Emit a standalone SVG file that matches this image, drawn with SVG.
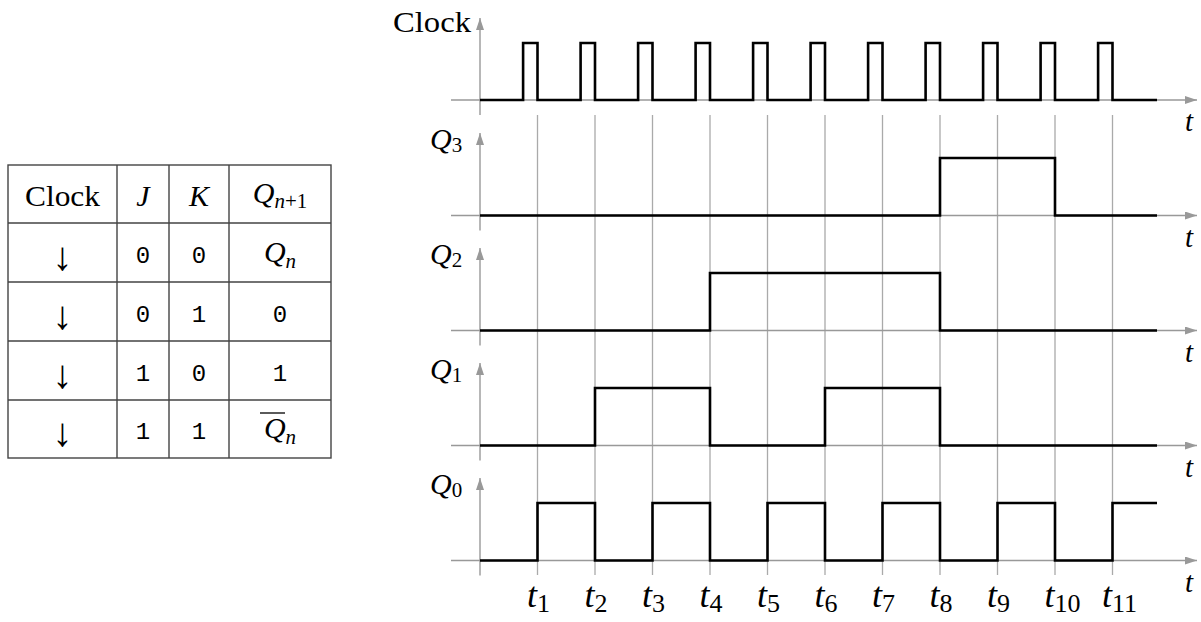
<svg xmlns="http://www.w3.org/2000/svg" width="1201" height="622" viewBox="0 0 1201 622">
<defs>
<marker id="ah" viewBox="0 0 12 8" refX="12" refY="4" markerWidth="12" markerHeight="8" markerUnits="userSpaceOnUse" orient="auto">
<path d="M0,0 L12,4 L0,8 Z" fill="#999"/>
</marker>
</defs>
<style>
.tbl{fill:none;stroke:#444;stroke-width:1.4}
.ax{fill:none;stroke:#999;stroke-width:1.4}
.grid{fill:none;stroke:#aaa;stroke-width:1.3}
.sig{fill:none;stroke:#000;stroke-width:2.6;stroke-linejoin:miter}
.rm{font-family:"Liberation Serif","DejaVu Serif",serif;font-size:29px;fill:#000}
.mi{font-family:"Liberation Serif","DejaVu Serif",serif;font-style:italic;font-size:30px;fill:#000}
.tt{font-family:"Liberation Mono","DejaVu Sans Mono",monospace;font-size:24px;fill:#000}
.arr{font-family:"Liberation Serif","DejaVu Serif",serif;font-size:40px;fill:#000}
.sub{font-size:21px;font-style:normal}
.subi{font-size:21px}
.tl{font-family:"Liberation Serif","DejaVu Serif",serif;font-style:italic;font-size:36px;fill:#000}
.tls{font-size:26px;font-style:normal}
.ta{font-family:"Liberation Serif","DejaVu Serif",serif;font-style:italic;font-size:29px;fill:#000}
</style>

<g id="truth-table">
<rect class="tbl" x="8" y="165" width="323" height="293"/>
<path class="tbl" d="M117,165 V458 M169,165 V458 M229,165 V458 M8,223 H331 M8,282 H331 M8,341 H331 M8,400 H331"/>
<text class="rm" x="25" y="206" textLength="75" lengthAdjust="spacingAndGlyphs">Clock</text>
<text class="mi" x="143" y="206" text-anchor="middle">J</text>
<text class="mi" x="199" y="206" text-anchor="middle">K</text>
<text class="mi" x="280" y="203" text-anchor="middle">Q<tspan class="subi" dy="5">n</tspan><tspan class="sub">+1</tspan></text>

<text class="arr" x="62.5" y="270" text-anchor="middle">↓</text>
<text class="tt" x="143" y="263" text-anchor="middle">0</text>
<text class="tt" x="199" y="263" text-anchor="middle">0</text>
<text class="mi" x="280" y="262" text-anchor="middle">Q<tspan class="subi" dy="6">n</tspan></text>

<text class="arr" x="62.5" y="329" text-anchor="middle">↓</text>
<text class="tt" x="143" y="322" text-anchor="middle">0</text>
<text class="tt" x="199" y="322" text-anchor="middle">1</text>
<text class="tt" x="280" y="322" text-anchor="middle">0</text>

<text class="arr" x="62.5" y="388" text-anchor="middle">↓</text>
<text class="tt" x="143" y="381" text-anchor="middle">1</text>
<text class="tt" x="199" y="381" text-anchor="middle">0</text>
<text class="tt" x="280" y="381" text-anchor="middle">1</text>

<text class="arr" x="62.5" y="446" text-anchor="middle">↓</text>
<text class="tt" x="143" y="439" text-anchor="middle">1</text>
<text class="tt" x="199" y="439" text-anchor="middle">1</text>
<text class="mi" x="280" y="438" text-anchor="middle">Q<tspan class="subi" dy="6">n</tspan></text>
<line x1="260" y1="413" x2="285" y2="413" stroke="#000" stroke-width="1.3"/>
</g>

<g id="connectors">
<path class="grid" d="M537.5,115 V575 M595,115 V575 M652.5,115 V575 M710,115 V575 M767.5,115 V575 M825,115 V575 M882.5,115 V575 M940,115 V575 M997.5,115 V575 M1055,115 V575 M1112.5,115 V575"/>
<line class="ax" x1="451" y1="100" x2="1197" y2="100" marker-end="url(#ah)"/>
<line class="ax" x1="480" y1="115" x2="480" y2="18" marker-end="url(#ah)"/>
<line class="ax" x1="451" y1="215.5" x2="1197" y2="215.5" marker-end="url(#ah)"/>
<line class="ax" x1="480" y1="230.5" x2="480" y2="133" marker-end="url(#ah)"/>
<line class="ax" x1="451" y1="330.5" x2="1197" y2="330.5" marker-end="url(#ah)"/>
<line class="ax" x1="480" y1="345.5" x2="480" y2="248" marker-end="url(#ah)"/>
<line class="ax" x1="451" y1="445.5" x2="1197" y2="445.5" marker-end="url(#ah)"/>
<line class="ax" x1="480" y1="460.5" x2="480" y2="363" marker-end="url(#ah)"/>
<line class="ax" x1="451" y1="560.5" x2="1197" y2="560.5" marker-end="url(#ah)"/>
<line class="ax" x1="480" y1="575.5" x2="480" y2="478" marker-end="url(#ah)"/>
</g>

<g id="clock">
<text class="rm" x="393" y="32" textLength="78" lengthAdjust="spacingAndGlyphs">Clock</text>
<text class="ta" x="1185" y="131">t</text>
<path class="sig" d="M480,100 H523.1 V43 H537.5 V100 H580.6 V43 H595 V100 H638.1 V43 H652.5 V100 H695.6 V43 H710 V100 H753.1 V43 H767.5 V100 H810.6 V43 H825 V100 H868.1 V43 H882.5 V100 H925.6 V43 H940 V100 H983.1 V43 H997.5 V100 H1040.6 V43 H1055 V100 H1098.1 V43 H1112.5 V100 H1157"/>
</g>

<g id="q3">
<text class="mi" x="430" y="149">Q<tspan class="sub" dy="3">3</tspan></text>
<text class="ta" x="1185" y="246.5">t</text>
<path class="sig" d="M480,215.5 H940 V158 H1055 V215.5 H1157"/>
</g>

<g id="q2">
<text class="mi" x="430" y="264">Q<tspan class="sub" dy="3">2</tspan></text>
<text class="ta" x="1185" y="361.5">t</text>
<path class="sig" d="M480,330.5 H710 V273 H940 V330.5 H1157"/>
</g>

<g id="q1">
<text class="mi" x="430" y="379">Q<tspan class="sub" dy="3">1</tspan></text>
<text class="ta" x="1185" y="476.5">t</text>
<path class="sig" d="M480,445.5 H595 V388 H710 V445.5 H825 V388 H940 V445.5 H1157"/>
</g>

<g id="q0">
<text class="mi" x="430" y="494">Q<tspan class="sub" dy="3">0</tspan></text>
<text class="ta" x="1185" y="591.5">t</text>
<path class="sig" d="M480,560.5 H537.5 V503 H595 V560.5 H652.5 V503 H710 V560.5 H767.5 V503 H825 V560.5 H882.5 V503 H940 V560.5 H997.5 V503 H1055 V560.5 H1112.5 V503 H1157"/>
</g>

<g id="time-labels">
<text class="tl" x="527" y="607">t<tspan class="tls" dy="5">1</tspan></text>
<text class="tl" x="584.5" y="607">t<tspan class="tls" dy="5">2</tspan></text>
<text class="tl" x="642" y="607">t<tspan class="tls" dy="5">3</tspan></text>
<text class="tl" x="699.5" y="607">t<tspan class="tls" dy="5">4</tspan></text>
<text class="tl" x="757" y="607">t<tspan class="tls" dy="5">5</tspan></text>
<text class="tl" x="814.5" y="607">t<tspan class="tls" dy="5">6</tspan></text>
<text class="tl" x="872" y="607">t<tspan class="tls" dy="5">7</tspan></text>
<text class="tl" x="929.5" y="607">t<tspan class="tls" dy="5">8</tspan></text>
<text class="tl" x="987" y="607">t<tspan class="tls" dy="5">9</tspan></text>
<text class="tl" x="1044.5" y="607">t<tspan class="tls" dy="5">10</tspan></text>
<text class="tl" x="1102" y="607">t<tspan class="tls" dy="5">11</tspan></text>
</g>
</svg>
